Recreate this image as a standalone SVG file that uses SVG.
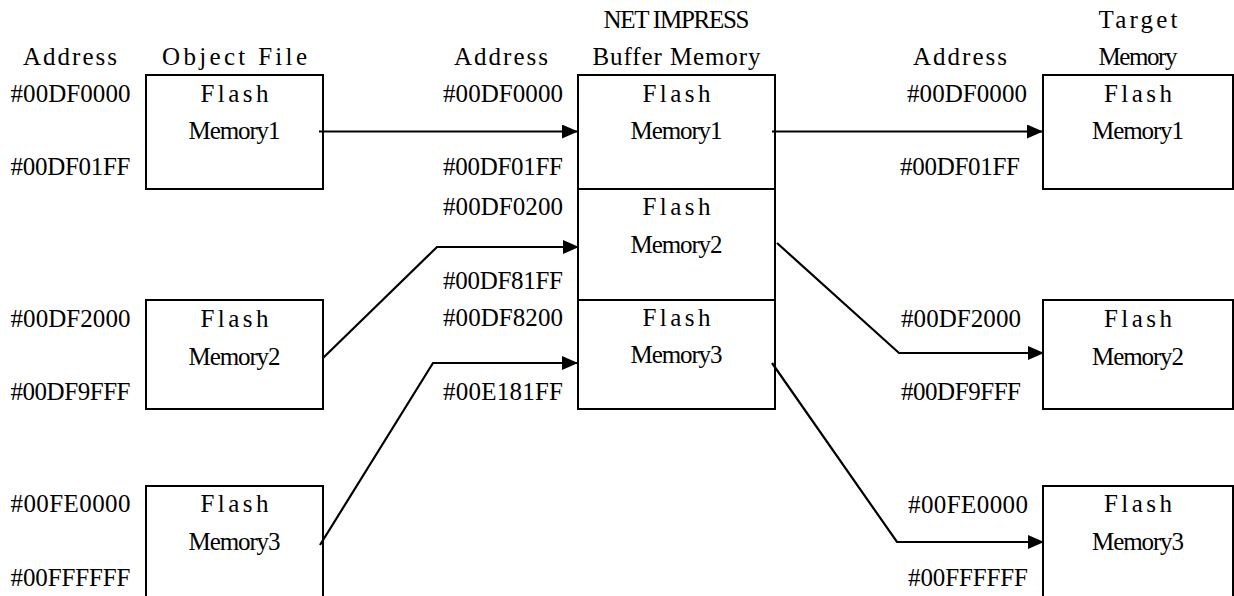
<svg xmlns="http://www.w3.org/2000/svg" width="1234" height="596" viewBox="0 0 1234 596">
<style>
text{font-family:"Liberation Serif","DejaVu Serif",serif;font-size:25px;fill:#000;text-anchor:middle}
.box{fill:#fff;stroke:#000;stroke-width:2}
.conn{fill:none;stroke:#000;stroke-width:2.2}
</style>
<defs>
<marker id="ah" markerUnits="userSpaceOnUse" markerWidth="17" markerHeight="14" refX="16" refY="7" orient="auto">
<path d="M0,0 L16,7 L0,14 z" fill="#000"/>
</marker>
</defs>
<rect width="1234" height="596" fill="#fff"/>
<g id="headers">
<text x="70" y="65" textLength="94">Address</text>
<text x="234.5" y="65" textLength="145">Object File</text>
<text x="501" y="65" textLength="94">Address</text>
<text x="676.5" y="28" textLength="146">NET IMPRESS</text>
<text x="676.5" y="65" textLength="168">Buffer Memory</text>
<text x="960" y="65" textLength="94">Address</text>
<text x="1138" y="28" textLength="79">Target</text>
<text x="1138" y="65" textLength="79">Memory</text>
</g>
<g id="obj1">
<rect class="box" x="146" y="75" width="177" height="114"/>
<text x="234.5" y="102" textLength="68">Flash</text>
<text x="234.5" y="139" textLength="92">Memory1</text>
<text x="70.5" y="102" textLength="120">#00DF0000</text>
<text x="70.5" y="175" textLength="120">#00DF01FF</text>
</g>
<g id="obj2">
<rect class="box" x="146" y="300" width="177" height="109"/>
<text x="234.5" y="327" textLength="68">Flash</text>
<text x="234.5" y="365" textLength="92">Memory2</text>
<text x="70.5" y="327" textLength="120">#00DF2000</text>
<text x="70.5" y="400" textLength="120">#00DF9FFF</text>
</g>
<g id="obj3">
<rect class="box" x="146" y="486" width="177" height="130"/>
<text x="234.5" y="512" textLength="68">Flash</text>
<text x="234.5" y="550" textLength="92">Memory3</text>
<text x="70.5" y="512" textLength="120">#00FE0000</text>
<text x="70.5" y="586" textLength="120">#00FFFFFF</text>
</g>
<g id="buf1">
<rect class="box" x="578" y="75" width="197" height="114"/>
<text x="676.5" y="102" textLength="68">Flash</text>
<text x="676.5" y="139" textLength="92">Memory1</text>
<text x="503" y="102" textLength="120">#00DF0000</text>
<text x="503" y="175" textLength="120">#00DF01FF</text>
</g>
<g id="buf2">
<rect class="box" x="578" y="189" width="197" height="111"/>
<text x="676.5" y="215" textLength="68">Flash</text>
<text x="676.5" y="253" textLength="92">Memory2</text>
<text x="503" y="215" textLength="120">#00DF0200</text>
<text x="503" y="289" textLength="120">#00DF81FF</text>
</g>
<g id="buf3">
<rect class="box" x="578" y="300" width="197" height="109"/>
<text x="676.5" y="326" textLength="68">Flash</text>
<text x="676.5" y="363" textLength="92">Memory3</text>
<text x="503" y="326" textLength="120">#00DF8200</text>
<text x="503" y="400" textLength="120">#00E181FF</text>
</g>
<g id="tgt1">
<rect class="box" x="1043" y="75" width="190" height="114"/>
<text x="1138" y="102" textLength="68">Flash</text>
<text x="1138" y="139" textLength="92">Memory1</text>
<text x="967" y="102" textLength="120">#00DF0000</text>
<text x="960" y="175" textLength="120">#00DF01FF</text>
</g>
<g id="tgt2">
<rect class="box" x="1043" y="300" width="190" height="109"/>
<text x="1138" y="327" textLength="68">Flash</text>
<text x="1138" y="365" textLength="92">Memory2</text>
<text x="961" y="327" textLength="120">#00DF2000</text>
<text x="961" y="400" textLength="120">#00DF9FFF</text>
</g>
<g id="tgt3">
<rect class="box" x="1043" y="486" width="190" height="130"/>
<text x="1138" y="512" textLength="68">Flash</text>
<text x="1138" y="550" textLength="92">Memory3</text>
<text x="968" y="513" textLength="120">#00FE0000</text>
<text x="968" y="586" textLength="120">#00FFFFFF</text>
</g>
<g id="connectors">
<polyline class="conn" points="319,131.5 578,131.5" marker-end="url(#ah)"/>
<polyline class="conn" points="772,131.5 1043,131.5" marker-end="url(#ah)"/>
<polyline class="conn" points="323,358 437,247 579,247" marker-end="url(#ah)"/>
<polyline class="conn" points="320,545 433,363 578,363" marker-end="url(#ah)"/>
<polyline class="conn" points="777,243 899,353 1044,353" marker-end="url(#ah)"/>
<polyline class="conn" points="772,363 897,542 1044,542" marker-end="url(#ah)"/>
</g>
</svg>
